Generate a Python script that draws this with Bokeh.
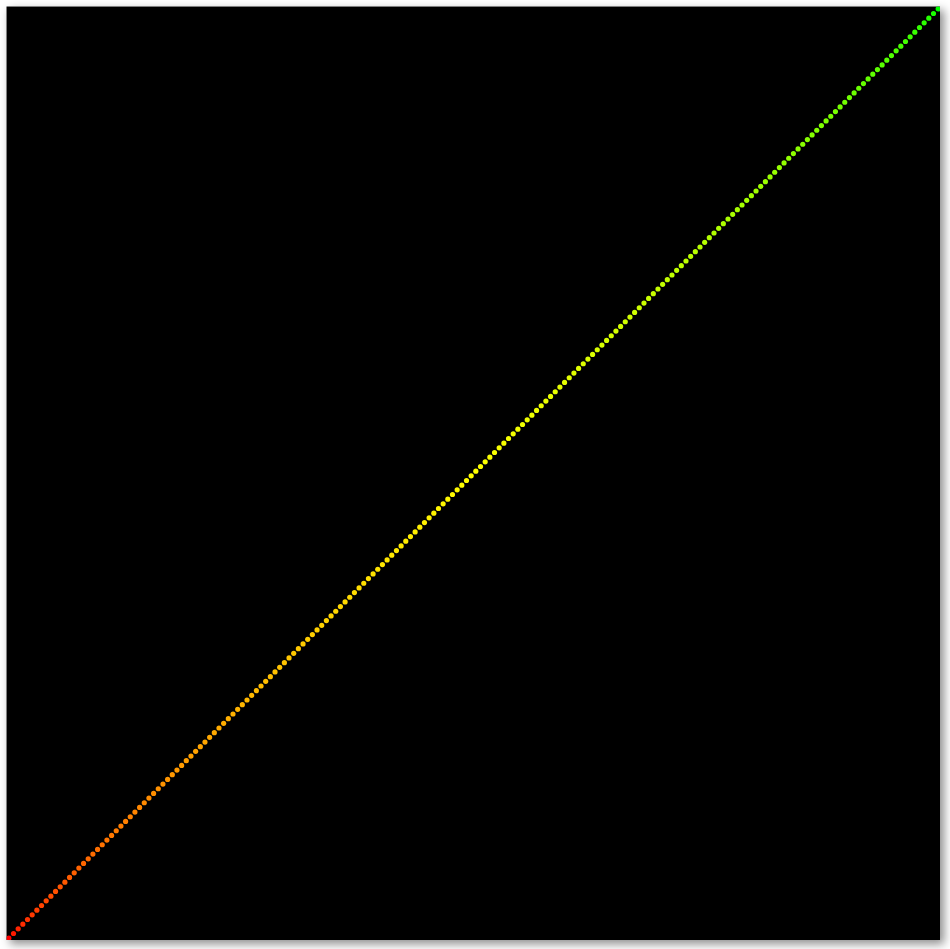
from bokeh.plotting import figure
from bokeh.models import ColumnDataSource, Range1d
from bokeh.embed import file_html
from bokeh.resources import INLINE

xs = [
    0, 1, 2, 3, 4, 5, 6, 7, 8, 9, 10, 11, 12, 13, 14, 15, 16, 17, 18, 19,
    20, 21, 22, 23, 24, 25, 26, 27, 28, 29, 30, 31, 32, 33, 34, 35, 36, 37, 38, 39,
    40, 41, 42, 43, 44, 45, 46, 47, 48, 49, 50, 51, 52, 53, 54, 55, 56, 57, 58, 59,
    60, 61, 62, 63, 64, 65, 66, 67, 68, 69, 70, 71, 72, 73, 74, 75, 76, 77, 78, 79,
    80, 81, 82, 83, 84, 85, 86, 87, 88, 89, 90, 91, 92, 93, 94, 95, 96, 97, 98, 99,
    100, 101, 102, 103, 104, 105, 106, 107, 108, 109, 110, 111, 112, 113, 114, 115, 116, 117, 118, 119,
    120, 121, 122, 123, 124, 125, 126, 127, 128, 129, 130, 131, 132, 133, 134, 135, 136, 137, 138, 139,
    140, 141, 142, 143, 144, 145, 146, 147, 148, 149, 150, 151, 152, 153, 154, 155, 156, 157, 158, 159,
    160, 161, 162, 163, 164, 165, 166, 167, 168, 169, 170, 171, 172, 173, 174, 175, 176, 177, 178, 179,
    180, 181, 182, 183, 184, 185, 186, 187, 188, 189, 190, 191, 192, 193, 194, 195, 196, 197, 198, 199,
]
ys = [
    0, 1, 2, 3, 4, 5, 6, 7, 8, 9, 10, 11, 12, 13, 14, 15, 16, 17, 18, 19,
    20, 21, 22, 23, 24, 25, 26, 27, 28, 29, 30, 31, 32, 33, 34, 35, 36, 37, 38, 39,
    40, 41, 42, 43, 44, 45, 46, 47, 48, 49, 50, 51, 52, 53, 54, 55, 56, 57, 58, 59,
    60, 61, 62, 63, 64, 65, 66, 67, 68, 69, 70, 71, 72, 73, 74, 75, 76, 77, 78, 79,
    80, 81, 82, 83, 84, 85, 86, 87, 88, 89, 90, 91, 92, 93, 94, 95, 96, 97, 98, 99,
    100, 101, 102, 103, 104, 105, 106, 107, 108, 109, 110, 111, 112, 113, 114, 115, 116, 117, 118, 119,
    120, 121, 122, 123, 124, 125, 126, 127, 128, 129, 130, 131, 132, 133, 134, 135, 136, 137, 138, 139,
    140, 141, 142, 143, 144, 145, 146, 147, 148, 149, 150, 151, 152, 153, 154, 155, 156, 157, 158, 159,
    160, 161, 162, 163, 164, 165, 166, 167, 168, 169, 170, 171, 172, 173, 174, 175, 176, 177, 178, 179,
    180, 181, 182, 183, 184, 185, 186, 187, 188, 189, 190, 191, 192, 193, 194, 195, 196, 197, 198, 199,
]


def ramp_color(v, vmin, vmax):
    # red -> yellow -> green colour ramp (style mapping of the value)
    t = (v - vmin) / (vmax - vmin)
    if t <= 0.5:
        r, g = 255, 255 * (2 * t) ** 0.5
    else:
        r, g = 255 * (2 * (1 - t)) ** 0.5, 255
    return "#%02x%02x%02x" % (int(round(r)), int(round(g)), 0)


colors = [ramp_color(v, min(xs), max(xs)) for v in xs]

source = ColumnDataSource(data=dict(x=xs, y=ys, color=colors))

p = figure(
    width=934, height=934,
    output_backend="svg", toolbar_location=None,
    x_range=Range1d(-0.5, 199.5), y_range=Range1d(-0.5, 199.5),
    min_border=0,
    background_fill_color="black", border_fill_color="black",
    outline_line_color=None,
    styles={
        "position": "relative", "left": "6px", "top": "6px",
        "box-shadow": "4px 4px 9px rgba(0,0,0,0.45)",
    },
)
p.axis.visible = False
p.grid.visible = False

p.scatter("x", "y", source=source, size=5.2, fill_color="color",
          line_color=None, marker="circle")

open("out.html", "w").write(file_html(p, INLINE))
